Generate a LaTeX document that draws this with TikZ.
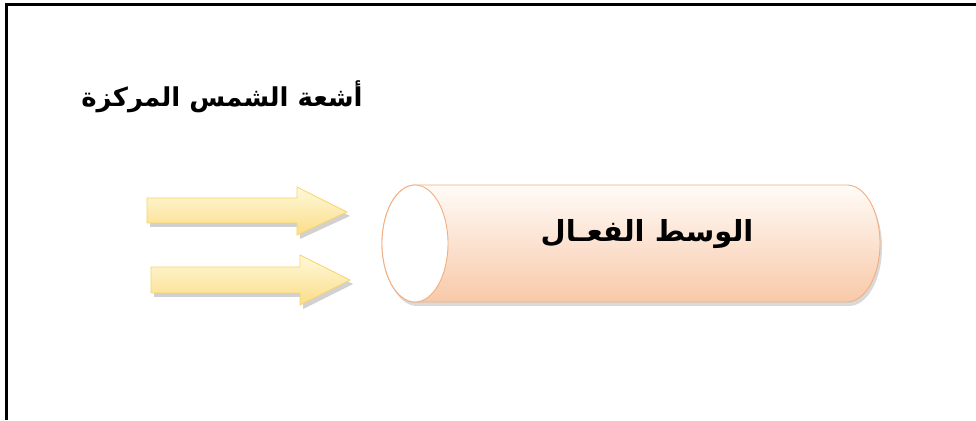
\documentclass[tikz,border=0pt]{standalone}
\usepackage{fontspec}
\TeXXeTstate=1
\newfontfamily\arabicfont[Script=Arabic]{DejaVu Sans}
\usetikzlibrary{shadows}
\definecolor{arrowline}{HTML}{F7D56A}
\definecolor{arrowtop}{HTML}{FFF8DA}
\definecolor{arrowbot}{HTML}{FADD88}
\definecolor{cylline}{HTML}{F2AE80}
\definecolor{cyltop}{HTML}{FFFBF8}
\definecolor{cylbot}{HTML}{F8C9A8}
\tikzset{
  framestyle/.style={line width=3pt},
  arrowshape/.style={draw=arrowline, line width=0.8pt, top color=arrowtop, bottom color=arrowbot,
    drop shadow={shadow xshift=3pt, shadow yshift=-4pt, opacity=0.3, fill=black!60}},
  cylbody/.style={draw=cylline, line width=0.9pt, top color=cyltop, bottom color=cylbot,
    drop shadow={shadow xshift=2pt, shadow yshift=-4pt, opacity=0.25, fill=black!60}},
  cylface/.style={draw=cylline, line width=0.9pt, fill=white},
  artext/.style={text=black, inner sep=0pt}
}
\begin{document}
\begin{tikzpicture}[x=1pt,y=1pt]
\useasboundingbox (0,0) rectangle (976,420);
% frame
\draw[framestyle] (6.5,0) -- (6.5,415.5) -- (976,415.5);
% title
\node[artext, font=\arabicfont\bfseries\fontsize{26}{30}\selectfont] (title) at (222,323) {\beginR أشعة الشمس المركزة\endR};
% arrows
\path[arrowshape] (147,222) -- (297,222) -- (297,233) -- (347,208) -- (297,185) -- (297,197) -- (147,197) -- cycle;
\path[arrowshape] (151,153) -- (300,153) -- (300,165) -- (350,140) -- (300,115) -- (300,127) -- (151,127) -- cycle;
% cylinder
\path[cylbody] (415,235) -- (847,235) arc[start angle=90, end angle=-90, x radius=33, y radius=58.5] -- (415,118) arc[start angle=270, end angle=90, x radius=33, y radius=58.5] -- cycle;
\draw[cylface] (415,176.5) ellipse[x radius=33, y radius=58.5];
\node[artext, font=\arabicfont\bfseries\fontsize{29}{34}\selectfont] (medium) at (647,186) {\beginR الوسط الفعـال\endR};
\end{tikzpicture}
\end{document}
